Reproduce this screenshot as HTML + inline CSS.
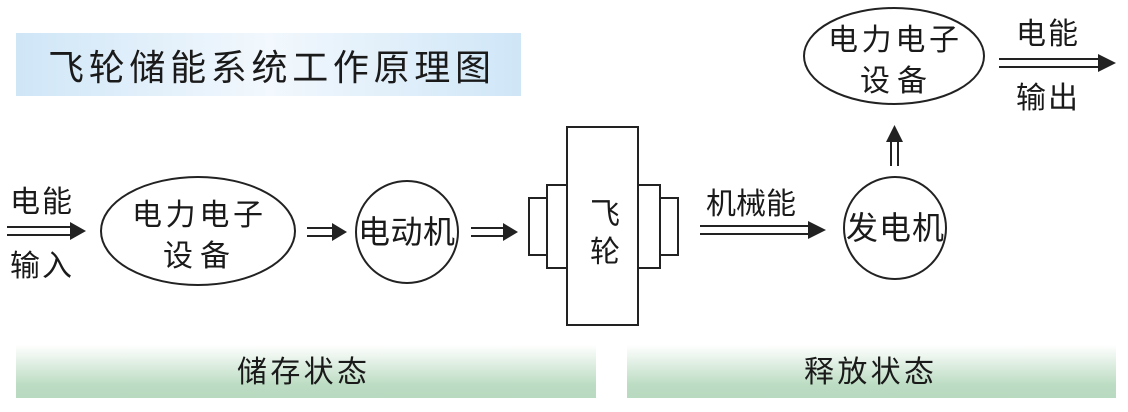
<!DOCTYPE html>
<html><head><meta charset="utf-8"><style>
html,body{margin:0;padding:0;background:#fff;}
svg text{font-family:"Liberation Sans","Noto Sans CJK SC",sans-serif;fill:#1a1a1a;}
</style></head><body>
<svg width="1128" height="407" viewBox="0 0 1128 407" xmlns="http://www.w3.org/2000/svg">
<defs>
<linearGradient id="tg" x1="0" y1="0" x2="1" y2="0">
<stop offset="0" stop-color="#cfe6f7"/><stop offset="0.5" stop-color="#f2f8fd"/><stop offset="1" stop-color="#cfe6f7"/>
</linearGradient>
<linearGradient id="gg" x1="0" y1="0" x2="0" y2="1">
<stop offset="0" stop-color="#ffffff"/><stop offset="0.75" stop-color="#bcdcc3"/><stop offset="1" stop-color="#b8dabf"/>
</linearGradient>
</defs>
<rect x="16" y="33" width="505" height="63" fill="url(#tg)"/>
<text x="48" y="80" font-size="36" textLength="443" lengthAdjust="spacing">飞轮储能系统工作原理图</text>

<rect x="16" y="345" width="580" height="53" fill="url(#gg)"/>
<rect x="627" y="345" width="489" height="53" fill="url(#gg)"/>
<text x="237" y="382" font-size="30" textLength="130" lengthAdjust="spacing">储存状态</text>
<text x="804" y="382" font-size="30" textLength="130" lengthAdjust="spacing">释放状态</text>

<g stroke="#222" stroke-width="2" fill="none">
<ellipse cx="198" cy="231" rx="97" ry="54"/>
<circle cx="407" cy="232" r="51"/>
<ellipse cx="894" cy="56" rx="90" ry="48"/>
<circle cx="895" cy="228" r="51"/>
<rect x="567" y="127" width="71" height="198"/>
<rect x="547" y="185" width="20" height="83"/>
<rect x="529" y="198" width="18" height="57"/>
<rect x="638" y="185" width="22" height="83"/>
<rect x="660" y="198" width="18" height="57"/>
</g>
<g stroke="#222" stroke-width="2">
<line x1="7" y1="227" x2="72" y2="227"/><line x1="7" y1="235" x2="72" y2="235"/>
<line x1="307" y1="228" x2="333" y2="228"/><line x1="307" y1="236" x2="333" y2="236"/>
<line x1="471" y1="228" x2="504" y2="228"/><line x1="471" y1="236" x2="504" y2="236"/>
<line x1="700" y1="226" x2="810" y2="226"/><line x1="700" y1="234" x2="810" y2="234"/>
<line x1="999" y1="59" x2="1100" y2="59"/><line x1="999" y1="67" x2="1100" y2="67"/>
<line x1="891" y1="166" x2="891" y2="140"/><line x1="898" y1="166" x2="898" y2="140"/>
</g>
<g fill="#222">
<polygon points="70,222 86,231 70,240"/>
<polygon points="332,223 347,232 332,241"/>
<polygon points="503,223 518,232 503,241"/>
<polygon points="808,221 826,230 808,239"/>
<polygon points="1098,54 1116,63 1098,72"/>
<polygon points="886,142 894.5,125 903,142"/>
</g>

<g font-size="30">
<text x="10" y="212" textLength="62" lengthAdjust="spacing">电能</text>
<text x="10" y="276" textLength="62" lengthAdjust="spacing">输入</text>
<text x="132" y="225" textLength="131" lengthAdjust="spacing">电力电子</text>
<text x="163" y="266" textLength="67" lengthAdjust="spacing">设备</text>
<text x="358" y="243" font-size="32" textLength="97" lengthAdjust="spacing">电动机</text>
<text x="590" y="224">飞</text>
<text x="590" y="262">轮</text>
<text x="706" y="214" textLength="90" lengthAdjust="spacing">机械能</text>
<text x="846" y="239" font-size="32" textLength="98" lengthAdjust="spacing">发电机</text>
<text x="828" y="50" textLength="131" lengthAdjust="spacing">电力电子</text>
<text x="860" y="91" textLength="67" lengthAdjust="spacing">设备</text>
<text x="1016" y="44" textLength="62" lengthAdjust="spacing">电能</text>
<text x="1016" y="108" textLength="62" lengthAdjust="spacing">输出</text>
</g>
</svg>
</body></html>
